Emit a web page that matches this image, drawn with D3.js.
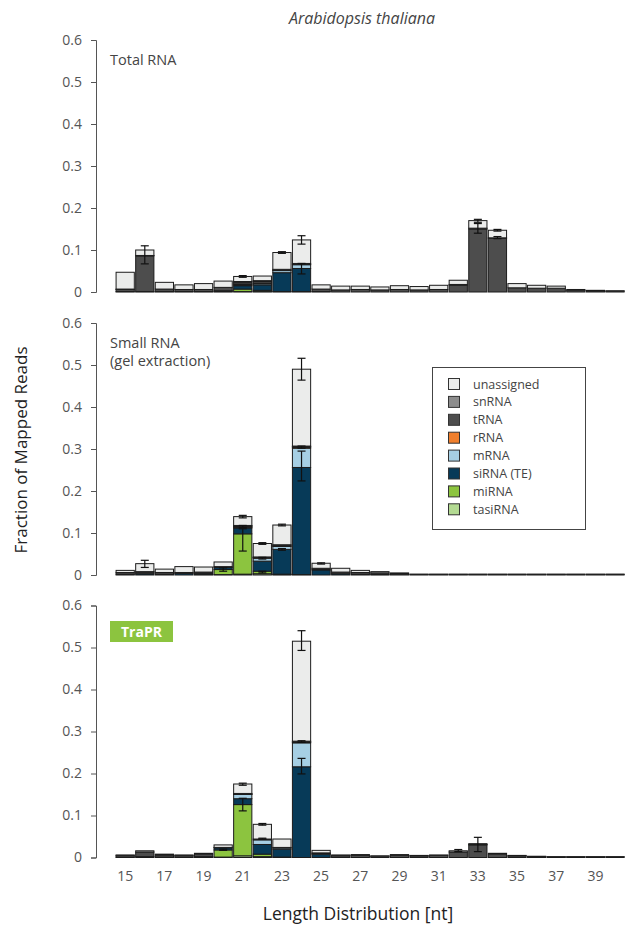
<!DOCTYPE html>
<html><head><meta charset="utf-8">
<script src="https://cdn.jsdelivr.net/npm/d3@7"></script>
<style>body{margin:0;background:#fff} text{font-family:"Open Sans",sans-serif}</style>
</head><body><svg id="c" width="625" height="927"></svg>
<script>
// ---------- DATA ----------
const lengths = [15,16,17,18,19,20,21,22,23,24,25,26,27,28,29,30,31,32,33,34,35,36,37,38,39,40];
const xTickLabels = [15,17,19,21,23,25,27,29,31,33,35,37,39];
const yTicks = [0,0.1,0.2,0.3,0.4,0.5,0.6];
const seriesNames = ["tasiRNA","miRNA","siRNA (TE)","mRNA","rRNA","tRNA","snRNA","unassigned"]; // stack order bottom -> top
const legendOrder = ["unassigned","snRNA","tRNA","rRNA","mRNA","siRNA (TE)","miRNA","tasiRNA"];
const panelLabels = [["Total RNA"],["Small RNA","(gel extraction)"],["TraPR"]];

// Total RNA
const total_tasiRNA   = [0,0,0,0,0,0,0.001,0.001,0,0,0,0,0,0,0,0,0,0,0,0,0,0,0,0,0,0];
const total_miRNA     = [0,0,0,0,0,0.001,0.006,0.003,0.001,0.001,0,0,0,0,0,0,0,0,0,0,0,0,0,0,0,0];
const total_siRNA     = [0.001,0.001,0.001,0.001,0.001,0.002,0.008,0.013,0.045,0.055,0.001,0,0,0,0,0,0,0,0,0,0,0,0,0,0,0];
const total_mRNA      = [0,0,0,0,0,0,0.002,0.003,0.005,0.009,0,0,0,0,0,0,0,0,0,0,0,0,0,0,0,0];
const total_rRNA      = [0,0,0,0,0,0,0.002,0.001,0.001,0.001,0,0,0,0,0,0,0,0,0,0,0,0,0,0,0,0];
const total_tRNA      = [0.005,0.085,0.006,0.005,0.005,0.008,0.004,0.004,0.002,0.002,0.006,0.005,0.006,0.005,0.006,0.005,0.006,0.016,0.150,0.128,0.010,0.009,0.009,0.004,0.003,0.002];
const total_snRNA     = [0.001,0.001,0,0,0,0,0.002,0.002,0,0,0,0,0,0,0,0,0,0.002,0.002,0.001,0,0,0,0,0,0];
const total_unassigned= [0.040,0.013,0.016,0.011,0.014,0.015,0.012,0.011,0.040,0.056,0.010,0.009,0.008,0.007,0.009,0.008,0.010,0.010,0.018,0.018,0.010,0.007,0.005,0.002,0.001,0.001];
const total_errors = [[16,0.067,0.110],[24,0.114,0.134],[24,0.043,0.068],[33,0.140,0.163],[33,0.166,0.173],[34,0.127,0.132],[34,0.145,0.149],[21,0.035,0.039],[23,0.092,0.096]];

// Small RNA (gel extraction)
const gel_tasiRNA   = [0,0,0,0,0,0.001,0.002,0.003,0.001,0,0,0,0,0,0,0,0,0,0,0,0,0,0,0,0,0];
const gel_miRNA     = [0,0,0,0,0.001,0.012,0.096,0.006,0.001,0.001,0,0,0,0,0,0,0,0,0,0,0,0,0,0,0,0];
const gel_siRNA     = [0.002,0.003,0.002,0.004,0.003,0.005,0.014,0.024,0.059,0.255,0.012,0.003,0.002,0.001,0,0,0,0,0,0,0,0,0,0,0,0];
const gel_mRNA      = [0,0,0,0,0,0,0.002,0.007,0.007,0.046,0.002,0,0,0,0,0,0,0,0,0,0,0,0,0,0,0];
const gel_rRNA      = [0,0,0,0,0,0,0.001,0.001,0.001,0.002,0,0,0,0,0,0,0,0,0,0,0,0,0,0,0,0];
const gel_tRNA      = [0.004,0.004,0.004,0.002,0.003,0.002,0.002,0.001,0.002,0.002,0.002,0.004,0.004,0.004,0.003,0.0015,0.0015,0.0015,0.0015,0.0015,0.0015,0.0015,0.0015,0.0015,0.0015,0.0015];
const gel_snRNA     = [0,0.001,0,0,0,0,0.001,0.001,0.001,0.001,0,0,0,0,0,0,0,0,0,0,0,0,0,0,0,0];
const gel_unassigned= [0.005,0.019,0.008,0.014,0.012,0.011,0.021,0.032,0.047,0.183,0.012,0.009,0.005,0.003,0.002,0.0005,0.0005,0.0005,0.0005,0.0005,0.0005,0.0005,0.0005,0.0005,0.0005,0.0005];
const gel_errors = [[16,0.018,0.035],[20,0.009,0.017],[21,0.057,0.110],[21,0.136,0.142],[21,0.113,0.118],[22,0.038,0.042],[22,0.073,0.077],[22,0.005,0.009],[23,0.117,0.121],[23,0.059,0.063],[24,0.464,0.516],[24,0.224,0.295],[24,0.302,0.307],[25,0.026,0.029]];

// TraPR
const trapr_tasiRNA   = [0,0,0,0,0,0.001,0.004,0.002,0,0,0,0,0,0,0,0,0,0,0,0,0,0,0,0,0,0];
const trapr_miRNA     = [0,0,0,0,0,0.017,0.122,0.006,0.001,0,0,0,0,0,0,0,0,0,0,0,0,0,0,0,0,0];
const trapr_siRNA     = [0.001,0.002,0.001,0.001,0.002,0.005,0.014,0.023,0.019,0.216,0.008,0.001,0,0,0,0,0,0,0,0,0,0,0,0,0,0];
const trapr_mRNA      = [0,0,0,0,0,0,0.010,0.011,0.003,0.057,0.001,0,0,0,0,0,0,0,0,0,0,0,0,0,0,0];
const trapr_rRNA      = [0,0,0,0,0,0,0.0005,0,0,0.001,0,0,0,0,0,0,0,0,0,0,0,0,0,0,0,0];
const trapr_tRNA      = [0.004,0.011,0.005,0.004,0.006,0.001,0.001,0.002,0.001,0.002,0.002,0.004,0.005,0.003,0.005,0.004,0.005,0.013,0.030,0.008,0.004,0.002,0.0015,0.0015,0.0015,0.0015];
const trapr_snRNA     = [0,0,0,0,0,0,0.001,0,0,0.001,0,0,0,0,0,0,0,0,0.001,0,0,0,0,0,0,0];
const trapr_unassigned= [0.001,0.003,0.002,0.001,0.002,0.006,0.0225,0.035,0.020,0.238,0.006,0.001,0.002,0.001,0.002,0.001,0.001,0.003,0.002,0.002,0.001,0.001,0.0005,0.0005,0.0005,0.0005];
const trapr_errors = [[21,0.111,0.141],[21,0.172,0.177],[20,0.017,0.020],[22,0.077,0.081],[22,0.044,0.046],[24,0.493,0.540],[24,0.199,0.236],[24,0.274,0.278],[32,0.014,0.019],[33,0.014,0.048]];

// ---------- STYLE ----------
const seriesColors = {"unassigned":"#ebeceb","snRNA":"#8c8c8c","tRNA":"#4d4d4d","rRNA":"#f07f2d","mRNA":"#a6cfe4","siRNA (TE)":"#073a58","miRNA":"#8cc43f","tasiRNA":"#b3da92"};

const panels = [
  {label: panelLabels[0], series:[total_tasiRNA,total_miRNA,total_siRNA,total_mRNA,total_rRNA,total_tRNA,total_snRNA,total_unassigned], errors: total_errors, top: 40},
  {label: panelLabels[1], series:[gel_tasiRNA,gel_miRNA,gel_siRNA,gel_mRNA,gel_rRNA,gel_tRNA,gel_snRNA,gel_unassigned], errors: gel_errors, top: 323},
  {label: panelLabels[2], series:[trapr_tasiRNA,trapr_miRNA,trapr_siRNA,trapr_mRNA,trapr_rRNA,trapr_tRNA,trapr_snRNA,trapr_unassigned], errors: trapr_errors, top: 605.5}
];

const svg = d3.select("#c");
const panelH = 252;
const x = d3.scaleBand().domain(lengths).range([115.4, 624.8]).paddingInner(0.07).paddingOuter(0.035);
const stack = d3.stack().keys(seriesNames);

panels.forEach((p, pi) => {
  const y = d3.scaleLinear().domain([0, 0.6]).range([p.top + panelH, p.top]);
  const rows = lengths.map((L, i) => {
    const r = {len: L};
    seriesNames.forEach((s, si) => r[s] = p.series[si][i]);
    return r;
  });
  const stacked = stack(rows);
  const g = svg.append("g");
  g.selectAll("g.layer").data(stacked).join("g")
    .attr("fill", d => seriesColors[d.key])
    .selectAll("rect").data(d => d.filter(e => e[1] - e[0] > 0)).join("rect")
    .attr("x", d => x(d.data.len))
    .attr("width", x.bandwidth())
    .attr("y", d => y(d[1]))
    .attr("height", d => y(d[0]) - y(d[1]))
    .attr("stroke", "#1c1c1c")
    .attr("stroke-width", 1);

  // error bars
  const eg = g.append("g").attr("stroke", "#111").attr("stroke-width", 1.2);
  p.errors.forEach(([L, lo, hi]) => {
    const cx = x(L) + x.bandwidth() / 2;
    eg.append("line").attr("x1", cx).attr("x2", cx).attr("y1", y(lo)).attr("y2", y(hi));
    eg.append("line").attr("x1", cx - 4).attr("x2", cx + 4).attr("y1", y(lo)).attr("y2", y(lo));
    eg.append("line").attr("x1", cx - 4).attr("x2", cx + 4).attr("y1", y(hi)).attr("y2", y(hi));
  });

  // y axis
  const ax = svg.append("g").attr("transform", "translate(96,0)")
    .call(d3.axisLeft(y).tickValues(yTicks).tickSize(5).tickSizeOuter(5).tickPadding(9)
      .tickFormat(d => d === 0 ? "0" : d3.format(".1f")(d)));
  ax.select(".domain").attr("stroke", "#555");
  ax.selectAll(".tick line").attr("stroke", "#555");
  ax.selectAll(".tick text").attr("fill", "#555").style("font-size", "14px").style("font-family", "'Open Sans',sans-serif");

  // panel labels
  if (pi < 2) {
    p.label.forEach((t, k) => {
      svg.append("text").attr("x", 110).attr("y", p.top + 25 + k * 18)
        .attr("fill", "#444").style("font-size", "14.5px").text(t);
    });
  } else {
    svg.append("rect").attr("x", 110).attr("y", p.top + 15.5).attr("width", 63).attr("height", 21).attr("fill", "#8cc43f");
    svg.append("text").attr("x", 141.5).attr("y", p.top + 31).attr("text-anchor", "middle")
      .attr("fill", "#fff").style("font-size", "14px").style("font-weight", "bold").text(p.label[0]);
  }

  // x tick labels in bottom panel
  if (pi === 2) {
    svg.append("g").selectAll("text").data(xTickLabels).join("text")
      .attr("x", d => x(d) + x.bandwidth() / 2)
      .attr("y", p.top + panelH + 23)
      .attr("text-anchor", "middle").attr("fill", "#555").style("font-size", "14px")
      .text(d => d);
  }
});

// legend
const lg = svg.append("g");
lg.append("rect").attr("x", 432.5).attr("y", 367.5).attr("width", 153).attr("height", 162)
  .attr("fill", "#fff").attr("stroke", "#444").attr("stroke-width", 1);
legendOrder.forEach((s, i) => {
  const yy = 384 + i * 17.9;
  lg.append("rect").attr("x", 448.5).attr("y", yy - 5.5).attr("width", 11).attr("height", 11)
    .attr("fill", seriesColors[s]).attr("stroke", "#333").attr("stroke-width", 1);
  lg.append("text").attr("x", 473).attr("y", yy + 4.5).attr("fill", "#444").style("font-size", "12.5px").text(s);
});

// titles
svg.append("text").attr("x", 362).attr("y", 24).attr("text-anchor", "middle").attr("fill", "#444")
  .style("font-size", "16px").style("font-style", "italic").text("Arabidopsis thaliana");
svg.append("text").attr("transform", "translate(27,450) rotate(-90)").attr("text-anchor", "middle")
  .attr("fill", "#222").style("font-size", "17px").text("Fraction of Mapped Reads");
svg.append("text").attr("x", 358).attr("y", 920).attr("text-anchor", "middle").attr("fill", "#222")
  .style("font-size", "17.5px").text("Length Distribution [nt]");
</script></body></html>
